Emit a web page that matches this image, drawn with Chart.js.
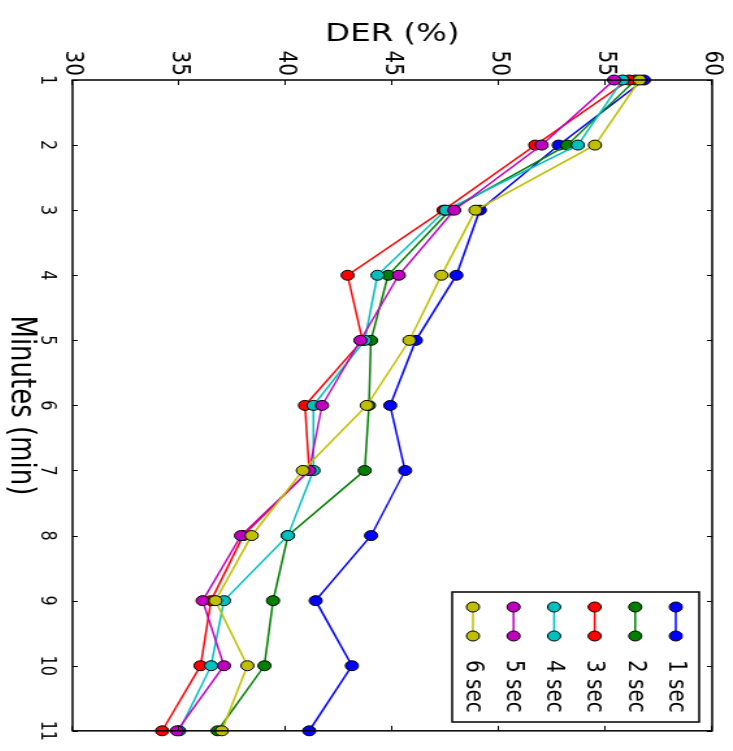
<!DOCTYPE html>
<html>
<head>
<meta charset="utf-8">
<script src="https://cdn.jsdelivr.net/npm/chart.js@4"></script>
<style>
  html, body { margin: 0; padding: 0; background: #fff; overflow: hidden; }
  #wrap { position: absolute; left: 0; top: 0; width: 751px; height: 564px;
          transform-origin: 0 0; transform: translateX(733px) rotate(90deg) scaleY(1.3); }
  #der-chart { width: 751px; height: 564px; display: block; }
</style>
</head>
<body>
<div id="wrap"><canvas id="der-chart" width="751" height="564"></canvas></div>
<script>
// minutes on the x axis, DER on the y axis; the whole chart is turned a quarter turn
const minutes = [1, 2, 3, 4, 5, 6, 7, 8, 9, 10, 11];
const derTicks = [30, 35, 40, 45, 50, 55, 60];
const seriesNames = ['1 sec', '2 sec', '3 sec', '4 sec', '5 sec', '6 sec'];
const sec1 = [56.8, 52.8, 49.1, 48.0, 46.1, 44.9, 45.6, 44.0, 41.4, 43.1, 41.1];
const sec2 = [56.4, 53.2, 47.7, 44.8, 44.0, 43.9, 43.7, 40.1, 39.4, 39.0, 36.8];
const sec3 = [56.1, 51.7, 47.4, 42.9, 43.6, 40.9, 41.1, 38.0, 36.5, 36.0, 34.2];
const sec4 = [55.8, 53.7, 47.5, 44.3, 43.7, 41.3, 41.3, 40.1, 37.1, 36.5, 35.0];
const sec5 = [55.4, 52.0, 47.9, 45.3, 43.5, 41.7, 41.1, 37.9, 36.1, 37.1, 34.9];
const sec6 = [56.6, 54.5, 48.9, 47.3, 45.8, 43.8, 40.8, 38.4, 36.7, 38.2, 37.0];

const colors = ['#0000ff', '#008000', '#ff0000', '#00bfbf', '#bf00bf', '#bfbf00'];
const allSeries = [sec1, sec2, sec3, sec4, sec5, sec6];

const datasets = allSeries.map(function(vals, i) {
  return {
    label: seriesNames[i],
    data: vals,
    borderColor: colors[i],
    backgroundColor: colors[i],
    borderWidth: 1.5,
    pointRadius: 5,
    pointBorderColor: '#000',
    pointBorderWidth: 1,
    pointBackgroundColor: colors[i],
    tension: 0,
    order: allSeries.length - i
  };
});

// frame, inward ticks and the legend box
const framePlugin = {
  id: 'frame',
  afterDraw: function(chart) {
    const ctx = chart.ctx;
    const a = chart.chartArea;
    const xs = chart.scales.x, ys = chart.scales.y;
    ctx.save();
    ctx.strokeStyle = '#000';
    ctx.lineWidth = 1;
    ctx.beginPath();
    xs.ticks.forEach(function(t, i) {
      const px = Math.round(xs.getPixelForTick(i)) + 0.5;
      ctx.moveTo(px, a.bottom); ctx.lineTo(px, a.bottom - 4);
      ctx.moveTo(px, a.top); ctx.lineTo(px, a.top + 4);
    });
    ys.ticks.forEach(function(t) {
      const py = Math.round(ys.getPixelForValue(t.value)) + 0.5;
      ctx.moveTo(a.left, py); ctx.lineTo(a.left + 5, py);
      ctx.moveTo(a.right, py); ctx.lineTo(a.right - 5, py);
    });
    ctx.stroke();
    ctx.lineWidth = 1.5;
    ctx.strokeRect(a.left, a.top, a.right - a.left, a.bottom - a.top);

    // legend
    const box = { x: 592, y: 26, w: 130, h: 190 };
    ctx.fillStyle = '#fff';
    ctx.fillRect(box.x, box.y, box.w, box.h);
    ctx.lineWidth = 1.5;
    ctx.strokeRect(box.x, box.y, box.w, box.h);
    ctx.font = '20px "DejaVu Sans"';
    ctx.textBaseline = 'middle';
    ctx.textAlign = 'left';
    chart.data.datasets.forEach(function(ds, i) {
      const y = box.y + 18 + i * 31.2;
      ctx.strokeStyle = ds.borderColor;
      ctx.lineWidth = 1.5;
      ctx.beginPath();
      ctx.moveTo(607, y); ctx.lineTo(636, y);
      ctx.stroke();
      [607, 636].forEach(function(cx) {
        ctx.beginPath();
        ctx.arc(cx, y, 5, 0, Math.PI * 2);
        ctx.fillStyle = ds.borderColor;
        ctx.fill();
        ctx.strokeStyle = '#000';
        ctx.lineWidth = 1;
        ctx.stroke();
      });
      ctx.fillStyle = '#000';
      ctx.fillText(ds.label, 660, y);
    });
    ctx.restore();
  }
};

const config = {
  type: 'line',
  data: { labels: minutes, datasets: datasets },
  options: {
    responsive: false,
    animation: false,
    devicePixelRatio: 1,
    layout: { padding: { top: 15, right: 19, left: 0, bottom: 0 } },
    plugins: { legend: { display: false }, tooltip: { enabled: false } },
    scales: {
      x: {
        type: 'category',
        offset: false,
        grid: { display: false, drawTicks: false },
        border: { display: false },
        ticks: { color: '#000', padding: 10, maxRotation: 0, font: { family: 'DejaVu Sans', size: 16 } },
        title: { display: true, text: 'Minutes (min)', color: '#000', padding: { top: 0, bottom: 0 },
                 font: { family: 'DejaVu Sans', size: 26 } },
        afterFit: function(scale) { scale.height = 564 - 508; }
      },
      y: {
        min: 30,
        max: 60,
        afterBuildTicks: function(scale) { scale.ticks = derTicks.map(function(v) { return { value: v }; }); },
        grid: { display: false, drawTicks: false },
        border: { display: false },
        ticks: { color: '#000', padding: 4, font: { family: 'DejaVu Sans', size: 20 } },
        title: { display: true, text: 'DER (%)', color: '#000', padding: { top: 19, bottom: 0 },
                 font: { family: 'DejaVu Sans', size: 25 } },
        afterFit: function(scale) { scale.width = 80; }
      }
    }
  },
  plugins: [framePlugin]
};

new Chart(document.getElementById('der-chart'), config);
</script>
</body>
</html>
